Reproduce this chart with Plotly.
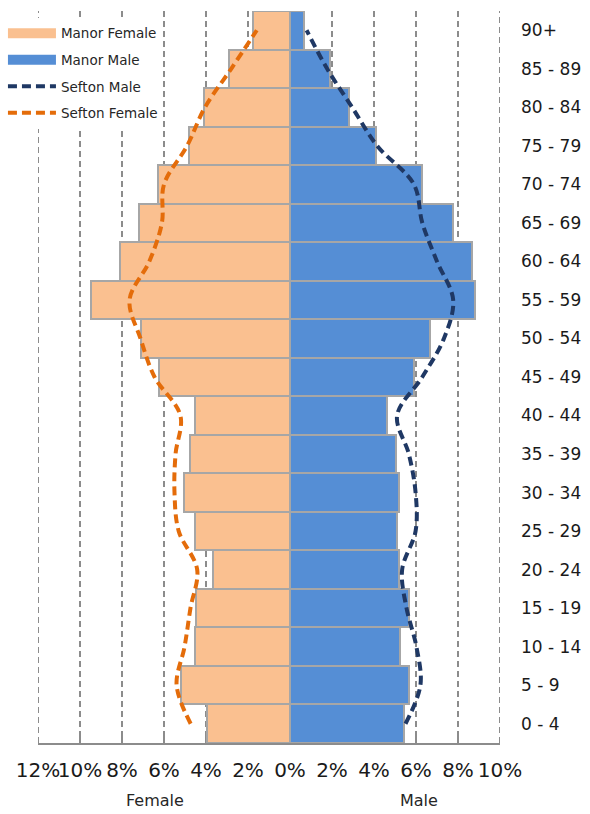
import plotly.graph_objects as go

age_groups = ["0 - 4", "5 - 9", "10 - 14", "15 - 19", "20 - 24", "25 - 29", "30 - 34",
              "35 - 39", "40 - 44", "45 - 49", "50 - 54", "55 - 59", "60 - 64", "65 - 69",
              "70 - 74", "75 - 79", "80 - 84", "85 - 89", "90+"]

manor_female = [3.97, 5.18, 4.54, 4.47, 3.66, 4.54, 5.03, 4.78, 4.54, 6.22,
                7.10, 9.48, 8.10, 7.19, 6.30, 4.80, 4.10, 2.90, 1.75]
manor_male = [5.45, 5.66, 5.26, 5.66, 5.21, 5.10, 5.18, 5.06, 4.60, 5.90,
              6.69, 8.83, 8.67, 7.77, 6.30, 4.10, 2.80, 1.90, 0.66]
sefton_male = [5.50, 6.21, 6.02, 5.55, 5.34, 5.98, 5.98, 5.66, 5.10, 6.30,
               7.33, 7.77, 7.00, 6.30, 5.90, 4.15, 2.96, 1.77, 0.79]
sefton_female = [4.73, 5.40, 5.02, 4.74, 4.42, 5.30, 5.50, 5.45, 5.22, 6.45,
                 7.12, 7.64, 6.70, 6.10, 6.00, 4.90, 4.05, 2.80, 1.58]

tick_vals = [-12, -10, -8, -6, -4, -2, 0, 2, 4, 6, 8, 10]
tick_text = ["12%", "10%", "8%", "6%", "4%", "2%", "0%", "2%", "4%", "6%", "8%", "10%"]

FEMALE_COL = "#FAC090"
MALE_COL = "#558ED5"
EDGE = "#A6A6A6"
GRID = "#8C8C8C"
NAVY = "#1F3864"
ORANGE = "#E46C0A"

fig = go.Figure()

# legend keys drawn as wide rectangles, like the reference's bar keys
fig.add_trace(go.Scatter(name="Manor Female", x=[None], y=[None], mode="lines",
                         line=dict(color=FEMALE_COL, width=10), legendgroup="a",
                         hoverinfo="skip"))
fig.add_trace(go.Scatter(name="Manor Male", x=[None], y=[None], mode="lines",
                         line=dict(color=MALE_COL, width=10), legendgroup="b",
                         hoverinfo="skip"))

fig.add_trace(go.Bar(
    name="Manor Female", y=age_groups, x=[-v for v in manor_female], orientation="h",
    marker=dict(color=FEMALE_COL, line=dict(color=EDGE, width=2)), width=1,
    showlegend=False))
fig.add_trace(go.Bar(
    name="Manor Male", y=age_groups, x=manor_male, orientation="h",
    marker=dict(color=MALE_COL, line=dict(color=EDGE, width=2)), width=1,
    showlegend=False))
fig.add_trace(go.Scatter(
    name="Sefton Male", y=age_groups, x=sefton_male, mode="lines",
    line=dict(color=NAVY, width=4, dash="9px,5px", shape="spline", smoothing=1),
    legendgroup="c"))
fig.add_trace(go.Scatter(
    name="Sefton Female", y=age_groups, x=[-v for v in sefton_female], mode="lines",
    line=dict(color=ORANGE, width=4, dash="9px,5px", shape="spline", smoothing=1),
    legendgroup="d"))

# edge gridlines (at -12% and 10%) that plotly clips at the plot borders
for xv in (tick_vals[0], tick_vals[-1]):
    fig.add_shape(type="line", xref="x", yref="paper", x0=xv, x1=xv, y0=0, y1=1,
                  line=dict(color=GRID, width=2, dash="6px,4px"), layer="below")

fig.update_layout(
    width=590, height=814,
    margin=dict(l=38, r=90, t=11, b=71, autoexpand=False),
    paper_bgcolor="white", plot_bgcolor="white",
    barmode="overlay", bargap=0,
    font=dict(family="DejaVu Sans", color="#1a1a1a"),
    showlegend=True,
    legend=dict(xref="container", yref="container", x=0.005, y=0.978,
                xanchor="left", yanchor="top",
                bgcolor="white", font=dict(size=13.5, color="#262626"),
                tracegroupgap=6, itemwidth=48, traceorder="grouped"),
    xaxis=dict(range=[-12, 10], tickvals=tick_vals, ticktext=tick_text, tickangle=0,
               showgrid=True, gridcolor=GRID, gridwidth=2, griddash="6px,4px",
               zeroline=True, zerolinecolor=GRID, zerolinewidth=3,
               showline=True, linecolor=GRID, linewidth=2,
               ticks="inside", ticklen=10, tickcolor=GRID, tickwidth=2,
               layer="below traces", ticklabelstandoff=8,
               tickfont=dict(size=20, color="#1a1a1a"), fixedrange=True),
    xaxis2=dict(range=[-12, 10], tickvals=tick_vals, overlaying="x", side="bottom",
                anchor="y", showticklabels=False, showgrid=False, zeroline=False,
                showline=False, ticks="outside", ticklen=5, tickcolor=GRID,
                tickwidth=2),
    yaxis=dict(type="category", categoryorder="array", categoryarray=age_groups,
               range=[-0.5, 18.5],
               side="right", showgrid=False, zeroline=False, showline=False, ticks="",
               ticklabelstandoff=20, tickfont=dict(size=17, color="#1a1a1a")),
    annotations=[
        dict(text="Female", x=0.253, y=-0.078, xref="paper", yref="paper",
             xanchor="center", yanchor="middle",
             showarrow=False, font=dict(size=16, color="#262626")),
        dict(text="Male", x=0.825, y=-0.078, xref="paper", yref="paper",
             xanchor="center", yanchor="middle",
             showarrow=False, font=dict(size=16, color="#262626")),
    ],
)

fig.write_html("out.html", config={"displayModeBar": False},
               post_script="document.body.style.margin='0';")
